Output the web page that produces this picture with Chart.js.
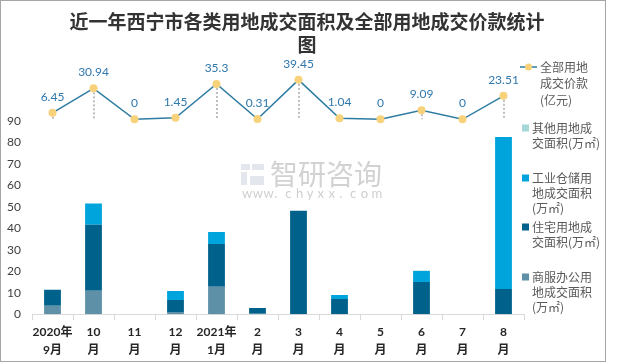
<!DOCTYPE html>
<html>
<head>
<meta charset="utf-8">
<script src="https://cdn.jsdelivr.net/npm/chart.js@4/dist/chart.umd.min.js"></script>
<style>
  html, body { margin: 0; padding: 0; background: #fff; }
</style>
</head>
<body>
<canvas id="land-chart" width="620" height="363"></canvas>
<script>
"use strict";

const months = [
  ["2020年", "9月"], ["10", "月"], ["11", "月"], ["12", "月"],
  ["2021年", "1月"], ["2", "月"], ["3", "月"], ["4", "月"],
  ["5", "月"], ["6", "月"], ["7", "月"], ["8", "月"],
];
const shangfuArea = [4.0, 11.0, 0, 1.1, 12.8, 0.3, 0, 0, 0, 0, 0, 0];
const zhuzhaiArea = [7.4, 30.7, 0, 5.5, 19.9, 2.6, 48.2, 7.1, 0, 15.0, 0, 11.8];
const gongyeArea = [0, 9.8, 0, 4.2, 5.6, 0, 0, 1.9, 0, 5.1, 0, 70.7];
const qitaArea = [0, 0, 0, 0, 0, 0, 0, 0, 0, 0.3, 0, 0];
const totalPrice = [6.45, 30.94, 0, 1.45, 35.3, 0.31, 39.45, 1.04, 0, 9.09, 0, 23.51];
const yTicks = [0, 10, 20, 30, 40, 50, 60, 70, 80, 90];

const FONT = "Lato, 'Noto Sans CJK SC', sans-serif";
const CJK = "'Noto Sans CJK SC', sans-serif";

const legendItems = [
  { color: "#a6d8d8", lines: ["其他用地成", "交面积(万㎡)"], y: 128 },
  { color: "#00a4dc", lines: ["工业仓储用", "地成交面积", "(万㎡)"], y: 178 },
  { color: "#00628a", lines: ["住宅用地成", "交面积(万㎡)"], y: 227 },
  { color: "#5e90a8", lines: ["商服办公用", "地成交面积", "(万㎡)"], y: 277 },
];

const extras = {
  id: "extras",
  beforeDraw(chart) {
    const c = chart.ctx;
    c.save();
    c.fillStyle = "#fff";
    c.fillRect(0, 0, chart.width, chart.height);
    // frame
    c.strokeStyle = "#a6a6a6";
    c.lineWidth = 1;
    c.strokeRect(0.5, 0.5, 605, 361);
    // title
    c.fillStyle = "#333";
    c.font = "bold 19px " + CJK;
    c.textAlign = "center";
    c.textBaseline = "middle";
    c.fillText("近一年西宁市各类用地成交面积及全部用地成交价款统计", 307, 22);
    c.fillText("图", 307, 45);
    // watermark
    c.fillStyle = "#e3e6ec";
    c.fillRect(241, 164, 9, 6);
    c.fillRect(252, 164, 12, 6);
    c.fillRect(241, 172, 6, 13);
    c.fillRect(250, 176, 14, 9);
    c.fillStyle = "#d2d2d2";
    c.font = "28px " + CJK;
    c.textAlign = "left";
    c.fillText("智研咨询", 270, 174);
    c.font = "13px " + FONT;
    c.fillStyle = "#cfcfcf";
    const wm = "www.chyxx.com";
    for (let i = 0; i < wm.length; i++) {
      c.fillText(wm[i], 242 + i * 10.8, 194);
    }
    c.restore();
  },
  beforeDatasetsDraw(chart) {
    const c = chart.ctx;
    const meta = chart.getDatasetMeta(4);
    const base = chart.scales.y2.getPixelForValue(0);
    c.save();
    c.strokeStyle = "#bfbfbf";
    c.lineWidth = 2;
    c.setLineDash([2, 2]);
    meta.data.forEach((pt) => {
      c.beginPath();
      c.moveTo(Math.round(pt.x), pt.y);
      c.lineTo(Math.round(pt.x), base);
      c.stroke();
    });
    c.restore();
  },
  afterDatasetsDraw(chart) {
    const c = chart.ctx;
    const meta = chart.getDatasetMeta(4);
    c.save();
    c.fillStyle = "#2f78ad";
    c.font = "12px " + FONT;
    c.textAlign = "center";
    c.textBaseline = "middle";
    meta.data.forEach((pt, i) => {
      c.fillText(String(totalPrice[i]), pt.x, pt.y - 16);
    });
    c.restore();
  },
  afterDraw(chart) {
    const c = chart.ctx;
    c.save();
    c.font = "12px " + CJK;
    c.textAlign = "left";
    c.textBaseline = "middle";
    // line legend
    c.strokeStyle = "#2e7ca2";
    c.lineWidth = 1.5;
    c.beginPath();
    c.moveTo(520, 67);
    c.lineTo(537, 67);
    c.stroke();
    c.fillStyle = "#f7d27a";
    c.beginPath();
    c.arc(528.5, 67, 3.5, 0, Math.PI * 2);
    c.fill();
    c.fillStyle = "#595959";
    ["全部用地", "成交价款", "(亿元)"].forEach((t, i) => c.fillText(t, 540, 67 + i * 16.5));
    legendItems.forEach((it) => {
      c.fillStyle = it.color;
      c.fillRect(522, it.y - 3.5, 7, 7);
      c.fillStyle = "#595959";
      it.lines.forEach((t, i) => c.fillText(t, 532, it.y + i * 15));
    });
    c.restore();
  },
};

const barSet = (label, data, color) => ({
  type: "bar",
  label,
  data,
  backgroundColor: color,
  yAxisID: "y",
  stack: "area",
  barPercentage: 0.41,
  categoryPercentage: 1,
  order: 2,
});

new Chart(document.getElementById("land-chart"), {
  data: {
    labels: months,
    datasets: [
      barSet("商服办公用地成交面积(万㎡)", shangfuArea, "#5e90a8"),
      barSet("住宅用地成交面积(万㎡)", zhuzhaiArea, "#00628a"),
      barSet("工业仓储用地成交面积(万㎡)", gongyeArea, "#00a4dc"),
      barSet("其他用地成交面积(万㎡)", qitaArea, "#a6d8d8"),
      {
        type: "line",
        label: "全部用地成交价款(亿元)",
        data: totalPrice,
        yAxisID: "y2",
        borderColor: "#2e7ca2",
        borderWidth: 1.5,
        pointRadius: 4,
        pointBackgroundColor: "#f7d27a",
        pointBorderColor: "#f7d27a",
        pointBorderWidth: 0,
        tension: 0,
        clip: false,
        order: 0,
      },
    ],
  },
  options: {
    responsive: false,
    animation: false,
    layout: { padding: { top: 60, right: 96, left: 0, bottom: 0 } },
    plugins: {
      legend: { display: false },
      title: { display: false },
      tooltip: { enabled: false },
    },
    scales: {
      x: {
        stacked: true,
        grid: { offset: true, drawOnChartArea: false, drawTicks: true, tickLength: 6, color: "#d9d9d9" },
        border: { color: "#d9d9d9" },
        ticks: {
          color: "#262626",
          font: { size: 12, weight: "bold", family: FONT, lineHeight: 1.5 },
          padding: 3,
          maxRotation: 0,
          autoSkip: false,
        },
        afterFit(s) { s.height = 48.7; },
      },
      y: {
        type: "linear",
        position: "left",
        stack: "left",
        stackWeight: 193.5,
        stacked: true,
        min: 0,
        max: 90,
        afterBuildTicks(s) { s.ticks = yTicks.map((v) => ({ value: v })); },
        ticks: {
          color: "#404040",
          font: { size: 12, family: FONT },
          padding: 11,
          autoSkip: false,
        },
        grid: { display: false, drawTicks: false },
        border: { display: false },
        afterFit(s) { s.width = 32; },
      },
      y2: {
        type: "linear",
        position: "left",
        stack: "left",
        stackWeight: 60.8,
        min: -1.5,
        max: 59.3,
        ticks: { display: false },
        grid: { display: false, drawTicks: false },
        border: { display: false },
        afterFit(s) { s.width = 32; },
      },
    },
  },
  plugins: [extras],
});
</script>
</body>
</html>
